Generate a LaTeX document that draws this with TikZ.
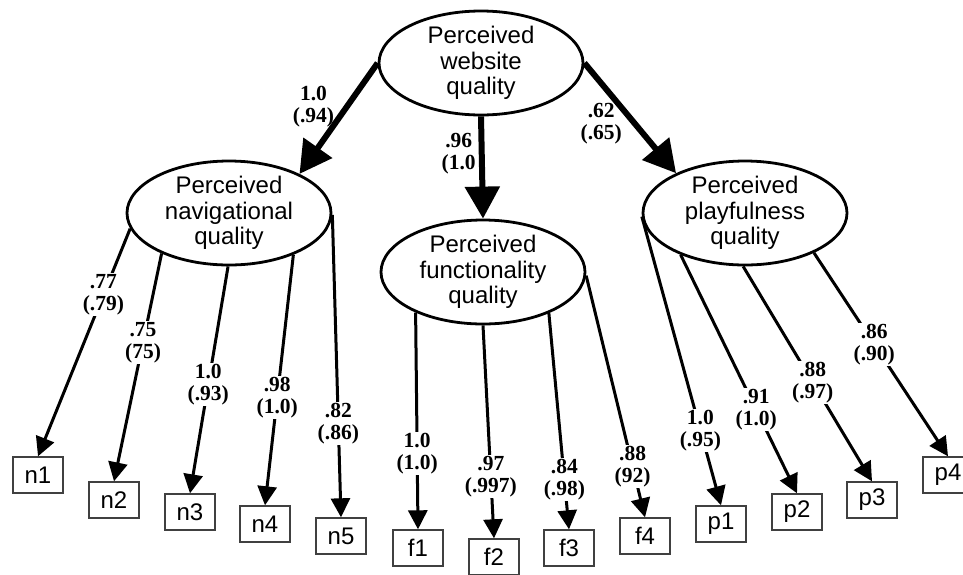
\documentclass[tikz,border=0pt]{standalone}
\usepackage{fontspec}
\setmainfont{Liberation Serif}
\setsansfont{Liberation Sans}
\usetikzlibrary{shapes.geometric, arrows.meta, positioning}

\tikzset{
    latent/.style={ellipse, draw, line width=2.8pt, minimum width=204pt, minimum height=104pt,
        inner sep=0pt, font=\sffamily\fontsize{24}{25.5}\selectfont},
    indicator/.style={rectangle, draw=black!75, line width=1.4pt, minimum width=50pt,
        minimum height=36pt, inner sep=0pt, font=\sffamily\fontsize{24}{25}\selectfont},
    coef/.style={font=\bfseries\fontsize{21.5}{22}\selectfont, fill=white, inner sep=1pt},
    bigload/.style={-{Triangle[length=32pt,width=34pt]}, line width=6pt},
    load/.style={-{Triangle[length=19pt,width=19pt]}, line width=3pt}
}

\begin{document}
\begin{tikzpicture}[align=center, x=1pt, y=-1pt]
        \useasboundingbox (0,0) rectangle (963,574);

        \node[latent] (web)  at (481,63)  {Perceived\\website\\quality};
        \node[latent] (nav)  at (229,213) {Perceived\\navigational\\quality};
        \node[latent] (func) at (483,272) {Perceived\\functionality\\quality};
        \node[latent] (play) at (745,213) {Perceived\\playfulness\\quality};

        \node[indicator] (n1) at (38,475)  {n1};
        \node[indicator] (n2) at (114,500) {n2};
        \node[indicator] (n3) at (190,512) {n3};
        \node[indicator] (n4) at (265,524) {n4};
        \node[indicator] (n5) at (341,536) {n5};

        \node[indicator] (f1) at (418,548) {f1};
        \node[indicator] (f2) at (494,557) {f2};
        \node[indicator] (f3) at (569,548) {f3};
        \node[indicator] (f4) at (645,536) {f4};

        \node[indicator] (p1) at (721,524) {p1};
        \node[indicator] (p2) at (797,512) {p2};
        \node[indicator] (p3) at (872,500) {p3};
        \node[indicator] (p4) at (948,475) {p4};

        \path[bigload]
            (web.180) edge node[coef, fill=none, pos=.39, left=9pt] {1.0\\(.94)} (nav.29)
            (web.270) edge node[coef, fill=none, pos=.36, left=2pt] {.96\\(1.0} (func.90)
            (web.0)   edge node[coef, fill=none, pos=.55, left=9pt] {.62\\(.65)} (play.150)
            ;

        \path[load]
            (nav.189) edge node[coef, pos=.29] {.77\\(.79)} (n1.north)
            (nav.211) edge node[coef, pos=.39] {.75\\(75)} (n2.north)
            (nav.269) edge node[coef, pos=.52] {1.0\\(.93)} (n3.north)
            (nav.327) edge node[coef, pos=.57] {.98\\(1.0)} (n4.north)
            (nav.359) edge node[coef, pos=.69] {.82\\(.86)} (n5.north)

            (func.211) edge node[coef, pos=.65] {1.0\\(1.0)} (f1.north)
            (func.270) edge node[coef, pos=.71] {.97\\(.997)} (f2.north)
            (func.328) edge node[coef, pos=.77] {.84\\(.98)} (f3.north)
            (func.358) edge node[coef, pos=.79] {.88\\(92)} (f4.north)

            (play.182) edge node[coef, pos=.74] {1.0\\(.95)} (p1.north)
            (play.213) edge node[coef, pos=.65] {.91\\(1.0)} (p2.north)
            (play.268) edge node[coef, pos=.54] {.88\\(.97)} (p3.north)
            (play.330) edge node[coef, pos=.45] {.86\\(.90)} (p4.north)
            ;
\end{tikzpicture}
\end{document}
